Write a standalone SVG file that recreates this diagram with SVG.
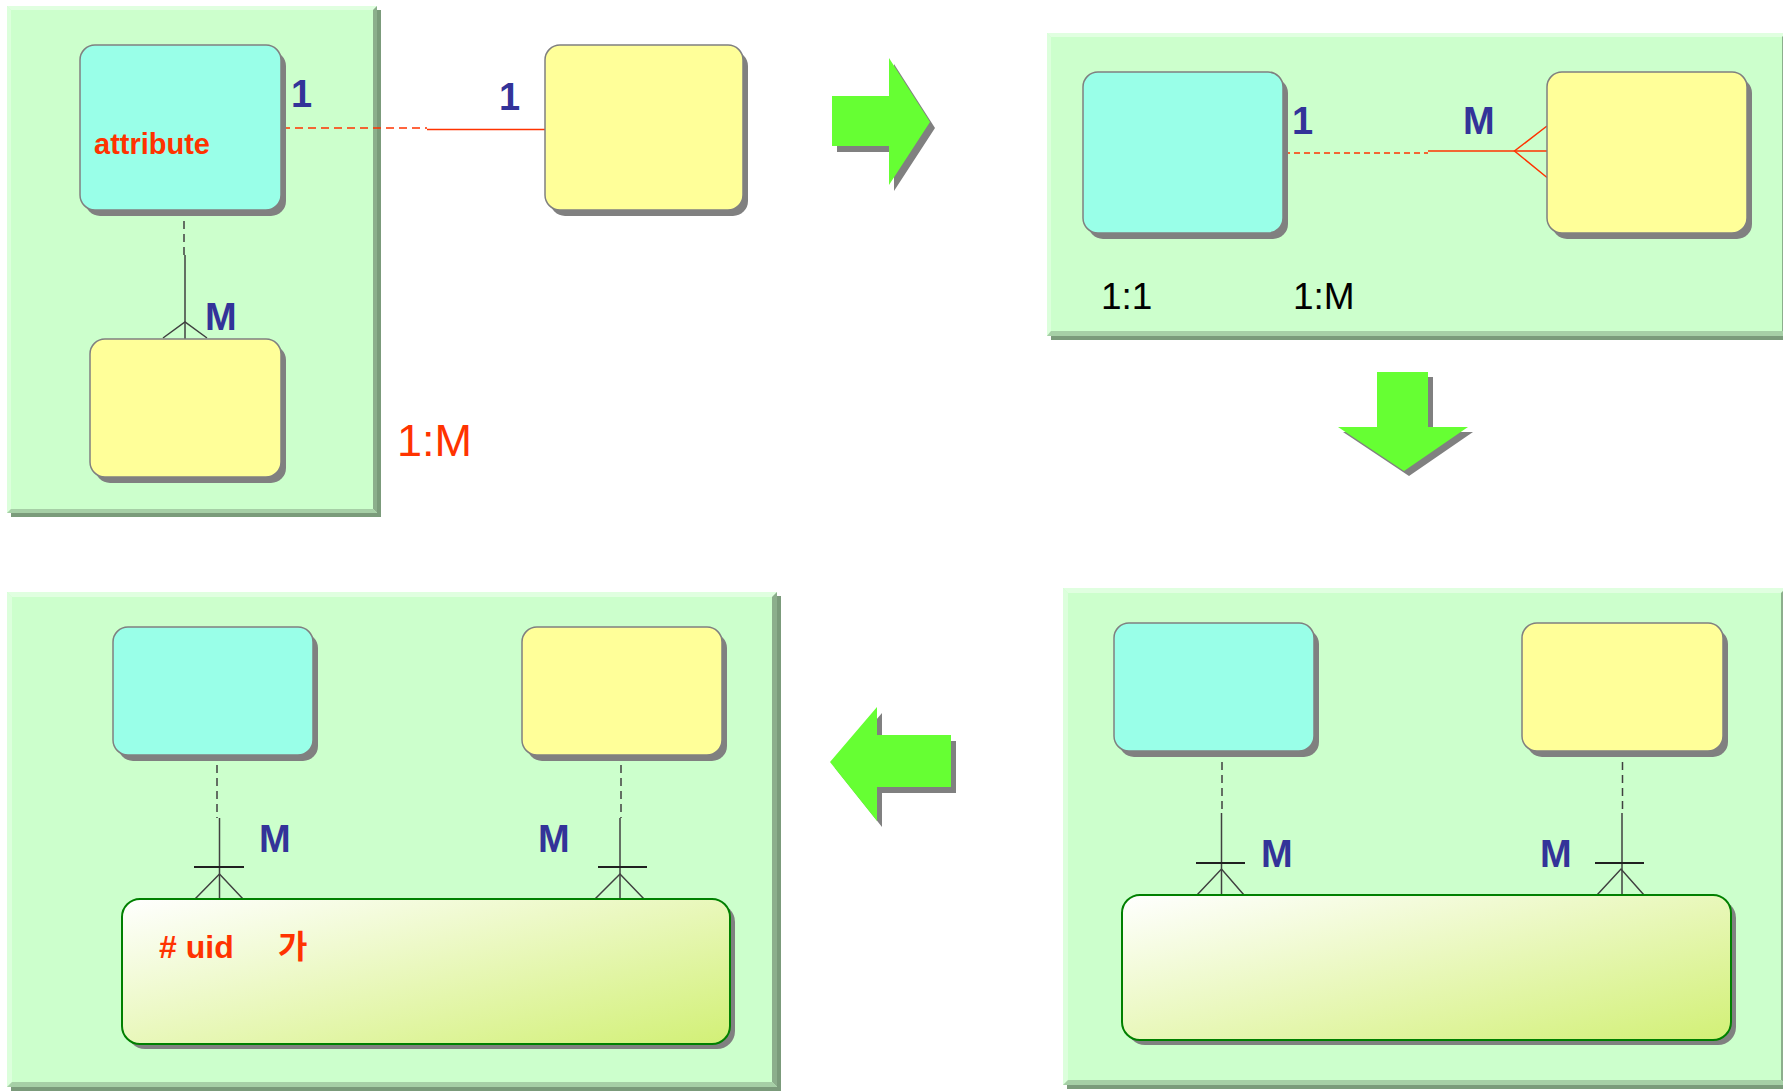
<svg xmlns="http://www.w3.org/2000/svg" width="1783" height="1092" viewBox="0 0 1783 1092">
<defs>
  <linearGradient id="gbox" x1="0" y1="0" x2="1" y2="1">
    <stop offset="0" stop-color="#ffffff"/>
    <stop offset="1" stop-color="#d2f076"/>
  </linearGradient>
</defs>
<style>
  .face{fill:#ccffcc}
  .bt{fill:#e0ffe0}
  .bl{fill:#dcffdc}
  .br{fill:#8cae8c}
  .bb{fill:#a6cfa6}
  .psh{fill:#7b9b7b}
  .sh{fill:#808080}
  .cy{fill:#99ffe8;stroke:#808080;stroke-width:1.5}
  .ye{fill:#ffff99;stroke:#808080;stroke-width:1.5}
  .gb{fill:url(#gbox);stroke:#008000;stroke-width:2}
  .arr{fill:#66ff33}
  .red{stroke:#ff3300;stroke-width:1.5;fill:none}
  .rdash{stroke-dasharray:8 5}
  .rdot{stroke-dasharray:6 4}
  .gl{stroke:#404040;stroke-width:1.5;fill:none}
  .gdash{stroke-dasharray:8 5}
  .bar{stroke:#202020;stroke-width:2.2;fill:none}
  .lbl{font-family:"Liberation Sans",Arial,sans-serif;font-weight:bold;font-size:38px;fill:#333399}
  .ratio{font-family:"Liberation Sans",Arial,sans-serif;font-size:37px;fill:#000000}
  .redt{font-family:"Liberation Sans",Arial,sans-serif;fill:#ff3300}
</style>

<!-- Panels -->
<g id="panel1">
  <rect class="psh" x="11" y="10" width="370" height="507"/>
  <rect class="face" x="7" y="6" width="370" height="507"/>
  <polygon class="bt" points="7,6 377,6 373,10 11,10"/>
  <polygon class="bl" points="7,6 11,10 11,509 7,513"/>
  <polygon class="br" points="377,6 377,513 373,509 373,10"/>
  <polygon class="bb" points="7,513 377,513 373,509 11,509"/>
</g>
<g id="panel2">
  <rect class="psh" x="1051" y="37" width="740" height="303"/>
  <rect class="face" x="1047" y="33" width="739" height="303"/>
  <polygon class="bt" points="1047,33 1786,33 1782,37 1051,37"/>
  <polygon class="bl" points="1047,33 1051,37 1051,331 1047,336"/>
  <polygon class="br" points="1786,33 1786,336 1782,331 1782,37"/>
  <polygon class="bb" points="1047,336 1786,336 1782,331 1051,331"/>
</g>
<g id="panel3">
  <rect class="psh" x="11" y="596" width="770" height="495"/>
  <rect class="face" x="7" y="592" width="770" height="495"/>
  <polygon class="bt" points="7,592 777,592 772,597 12,597"/>
  <polygon class="bl" points="7,592 12,597 12,1082 7,1087"/>
  <polygon class="br" points="777,592 777,1087 772,1082 772,597"/>
  <polygon class="bb" points="7,1087 777,1087 772,1082 12,1082"/>
</g>
<g id="panel4">
  <rect class="psh" x="1067" y="592" width="723" height="497"/>
  <rect class="face" x="1063" y="588" width="723" height="497"/>
  <polygon class="bt" points="1063,588 1786,588 1781,593 1068,593"/>
  <polygon class="bl" points="1063,588 1068,593 1068,1080 1063,1085"/>
  <polygon class="br" points="1786,588 1786,1085 1781,1080 1781,593"/>
  <polygon class="bb" points="1063,1085 1786,1085 1781,1080 1068,1080"/>
</g>

<!-- Flow arrows -->
<g id="arrow-right">
  <polygon class="sh" points="837,102 894,102 894,64 935,128 894,191 894,152 837,152"/>
  <polygon class="arr" points="832,96 889,96 889,58 930,122 889,185 889,146 832,146"/>
</g>
<g id="arrow-down">
  <polygon class="sh" points="1382,377 1433,377 1433,432 1473,432 1409,476 1343,432 1382,432"/>
  <polygon class="arr" points="1377,372 1428,372 1428,427 1468,427 1404,471 1338,427 1377,427"/>
</g>
<g id="arrow-left">
  <polygon class="sh" points="835,768 882,713 882,741 956,741 956,793 882,793 882,827"/>
  <polygon class="arr" points="830,762 877,707 877,735 951,735 951,787 877,787 877,821"/>
</g>

<!-- Connectors -->
<g id="connectors">
  <!-- panel 1 -->
  <line class="red rdash" x1="282" y1="128" x2="427" y2="128"/>
  <line class="red" x1="427" y1="129.5" x2="545" y2="129.5"/>
  <line class="gl gdash" x1="184" y1="221" x2="184" y2="255"/>
  <line class="gl" x1="185" y1="255" x2="185" y2="339"/>
  <polyline class="gl" points="163,338 185,322 207,338"/>
  <!-- panel 2 -->
  <line class="red rdot" x1="1284" y1="153" x2="1428" y2="153"/>
  <line class="red" x1="1428" y1="151" x2="1547" y2="151"/>
  <polyline class="red" points="1547,126 1514.5,151 1547,177.5"/>
  <!-- panel 3 -->
  <line class="gl gdash" x1="217" y1="765" x2="217" y2="818"/>
  <line class="gl" x1="219.5" y1="818" x2="219.5" y2="899"/>
  <line class="bar" x1="194" y1="867" x2="244" y2="867"/>
  <polyline class="gl" points="195,899 219.5,874 243,899"/>
  <line class="gl gdash" x1="621" y1="765" x2="621" y2="818"/>
  <line class="gl" x1="620" y1="818" x2="620" y2="899"/>
  <line class="bar" x1="598" y1="867" x2="647" y2="867"/>
  <polyline class="gl" points="595,899 620,874 644,899"/>
  <!-- panel 4 -->
  <line class="gl gdash" x1="1222" y1="762" x2="1222" y2="813"/>
  <line class="gl" x1="1221.5" y1="813" x2="1221.5" y2="895"/>
  <line class="bar" x1="1196" y1="863" x2="1245" y2="863"/>
  <polyline class="gl" points="1197,895 1221.5,869 1244,895"/>
  <line class="gl gdash" x1="1622.5" y1="762" x2="1622.5" y2="813"/>
  <line class="gl" x1="1622" y1="813" x2="1622" y2="895"/>
  <line class="bar" x1="1595" y1="863" x2="1644" y2="863"/>
  <polyline class="gl" points="1597,895 1621,869 1644,895"/>
</g>

<!-- Entity boxes -->
<g id="p1-cyan">
  <rect class="sh" x="85" y="51" width="201" height="165" rx="15"/>
  <rect class="cy" x="80" y="45" width="201" height="165" rx="15"/>
  <text class="redt" x="94" y="154" font-size="29" font-weight="bold">attribute</text>
</g>
<g id="p1-yellow-right">
  <rect class="sh" x="550" y="51" width="198" height="165" rx="15"/>
  <rect class="ye" x="545" y="45" width="198" height="165" rx="15"/>
</g>
<g id="p1-yellow-bottom">
  <rect class="sh" x="95" y="345" width="191" height="138" rx="15"/>
  <rect class="ye" x="90" y="339" width="191" height="138" rx="15"/>
</g>
<g id="p2-cyan">
  <rect class="sh" x="1088" y="78" width="200" height="161" rx="15"/>
  <rect class="cy" x="1083" y="72" width="200" height="161" rx="15"/>
</g>
<g id="p2-yellow">
  <rect class="sh" x="1552" y="78" width="200" height="161" rx="15"/>
  <rect class="ye" x="1547" y="72" width="200" height="161" rx="15"/>
</g>
<g id="p3-cyan">
  <rect class="sh" x="118" y="633" width="200" height="128" rx="15"/>
  <rect class="cy" x="113" y="627" width="200" height="128" rx="15"/>
</g>
<g id="p3-yellow">
  <rect class="sh" x="527" y="633" width="200" height="128" rx="15"/>
  <rect class="ye" x="522" y="627" width="200" height="128" rx="15"/>
</g>
<g id="p3-assoc">
  <rect class="sh" x="127" y="904" width="608" height="145" rx="18"/>
  <rect class="gb" x="122" y="899" width="608" height="145" rx="18"/>
  <text class="redt" x="159" y="958" font-size="32" font-weight="bold"># uid<tspan x="278" font-family="'Liberation Sans','Noto Sans CJK KR',sans-serif">가</tspan></text>
</g>
<g id="p4-cyan">
  <rect class="sh" x="1119" y="629" width="200" height="128" rx="15"/>
  <rect class="cy" x="1114" y="623" width="200" height="128" rx="15"/>
</g>
<g id="p4-yellow">
  <rect class="sh" x="1527" y="629" width="201" height="128" rx="15"/>
  <rect class="ye" x="1522" y="623" width="201" height="128" rx="15"/>
</g>
<g id="p4-assoc">
  <rect class="sh" x="1127" y="900" width="609" height="145" rx="18"/>
  <rect class="gb" x="1122" y="895" width="609" height="145" rx="18"/>
</g>

<!-- Labels -->
<g id="labels">
  <text class="lbl" x="291" y="107">1</text>
  <text class="lbl" x="499" y="110">1</text>
  <text class="lbl" x="205" y="330">M</text>
  <text class="redt" x="397" y="456" font-size="45">1:M</text>
  <text class="lbl" x="1292" y="134">1</text>
  <text class="lbl" x="1463" y="134">M</text>
  <text class="ratio" x="1101" y="309">1:1</text>
  <text class="ratio" x="1293" y="309">1:M</text>
  <text class="lbl" x="259" y="852">M</text>
  <text class="lbl" x="538" y="852">M</text>
  <text class="lbl" x="1261" y="867">M</text>
  <text class="lbl" x="1540" y="867">M</text>
</g>
</svg>
